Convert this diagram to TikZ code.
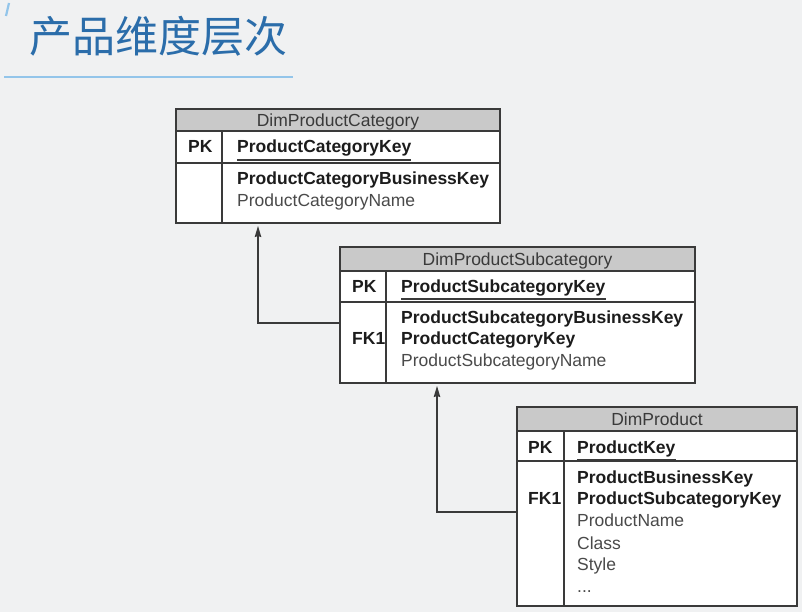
\documentclass[tikz,border=0pt]{standalone}
\usepackage{fontspec}
\setmainfont{Liberation Sans}
\newfontfamily\cjk{Noto Sans CJK SC}
\usetikzlibrary{arrows.meta}
\definecolor{bg}{HTML}{F0F1F2}
\definecolor{titleblue}{HTML}{2B6DAA}
\definecolor{rulblue}{HTML}{93C5EA}
\definecolor{hdrfill}{HTML}{C9C9C9}
\definecolor{edge}{HTML}{3A3A3A}
\definecolor{boldtxt}{HTML}{1C1C1C}
\definecolor{regtxt}{HTML}{4A4A4A}
\tikzset{
  tbox/.style={draw=edge, line width=1.3pt, fill=white, inner sep=0, outer sep=0},
  hdr/.style={draw=edge, line width=1.3pt, fill=hdrfill},
  sep/.style={draw=edge, line width=1.3pt},
  txt/.style={anchor=base west, inner sep=0, font=\fontsize{17.5}{20}\selectfont},
  bfld/.style={txt, text=boldtxt, font=\fontsize{17.5}{20}\selectfont\bfseries},
  rfld/.style={txt, text=regtxt},
  htxt/.style={anchor=base, inner sep=0, text=edge, font=\fontsize{17.5}{20}\selectfont},
  uline/.style={draw=edge, line width=1.4pt},
  conn/.style={draw=edge, line width=1.1pt, shorten >=3pt, -{Stealth[length=11pt,width=6.5pt,inset=1pt]}}
}
\begin{document}
\begin{tikzpicture}[x=1pt,y=-1pt]
\fill[bg] (0,0) rectangle (802,612);
\useasboundingbox (0,0) rectangle (802,612);
% title
\draw[rulblue, line width=2.2pt] (9,3) -- (6,16);
\node[anchor=west, inner sep=0, text=titleblue, font=\cjk\fontsize{43}{43}\selectfont] (title) at (29,36) {产品维度层次};
\draw[rulblue, line width=1.3pt] (4,77) -- (293,77);

% table 1
\node[tbox, minimum width=324pt, minimum height=114pt] (t1) at (338,166) {};
\filldraw[hdr] (176,109) rectangle (500,131);
\draw[sep] (176,163) -- (500,163);
\draw[sep] (222,131) -- (222,223);
\draw[draw=edge, line width=1.3pt] (176,109) rectangle (500,223);
\node[htxt] (t1h) at (338,127) {DimProductCategory};
\node[bfld] (t1pk) at (188,153) {PK};
\node[bfld] (t1k) at (237,153) {ProductCategoryKey};
\draw[uline] ([yshift=-7pt]t1k.base west) -- ([yshift=-7pt]t1k.base east);
\node[bfld] (t1a) at (237,185) {ProductCategoryBusinessKey};
\node[rfld] (t1b) at (237,207) {ProductCategoryName};

% table 2
\node[tbox, minimum width=355pt, minimum height=136pt] (t2) at (517.5,315) {};
\filldraw[hdr] (340,247) rectangle (695,271);
\draw[sep] (340,302) -- (695,302);
\draw[sep] (386,271) -- (386,383);
\draw[draw=edge, line width=1.3pt] (340,247) rectangle (695,383);
\node[htxt] (t2h) at (517.5,265) {DimProductSubcategory};
\node[bfld] (t2pk) at (352,292) {PK};
\node[bfld] (t2k) at (401,292) {ProductSubcategoryKey};
\draw[uline] ([yshift=-7pt]t2k.base west) -- ([yshift=-7pt]t2k.base east);
\node[bfld] (t2a) at (401,323) {ProductSubcategoryBusinessKey};
\node[bfld] (t2fk) at (352,344) {FK1};
\node[bfld] (t2b) at (401,344) {ProductCategoryKey};
\node[rfld] (t2c) at (401,366) {ProductSubcategoryName};

% table 3
\node[tbox, minimum width=280pt, minimum height=199pt] (t3) at (657,506.5) {};
\filldraw[hdr] (517,407) rectangle (797,431);
\draw[sep] (517,461) -- (797,461);
\draw[sep] (564,431) -- (564,606);
\draw[draw=edge, line width=1.3pt] (517,407) rectangle (797,606);
\node[htxt] (t3h) at (657,425) {DimProduct};
\node[bfld] (t3pk) at (528,453) {PK};
\node[bfld] (t3k) at (577,453) {ProductKey};
\draw[uline] ([yshift=-7pt]t3k.base west) -- ([yshift=-7pt]t3k.base east);
\node[bfld] (t3a) at (577,483) {ProductBusinessKey};
\node[bfld] (t3fk) at (528,504) {FK1};
\node[bfld] (t3b) at (577,504) {ProductSubcategoryKey};
\node[rfld] (t3c) at (577,526) {ProductName};
\node[rfld] (t3d) at (577,549) {Class};
\node[rfld] (t3e) at (577,570) {Style};
\node[rfld] (t3f) at (577,592) {...};

% connectors
\coordinate (a1) at (258,223);
\coordinate (a2) at (437,383);
\draw[conn] ([yshift=-8pt]t2.west) -| (a1);
\draw[conn] ([yshift=-5.5pt]t3.west) -| (a2);
\end{tikzpicture}
\end{document}
